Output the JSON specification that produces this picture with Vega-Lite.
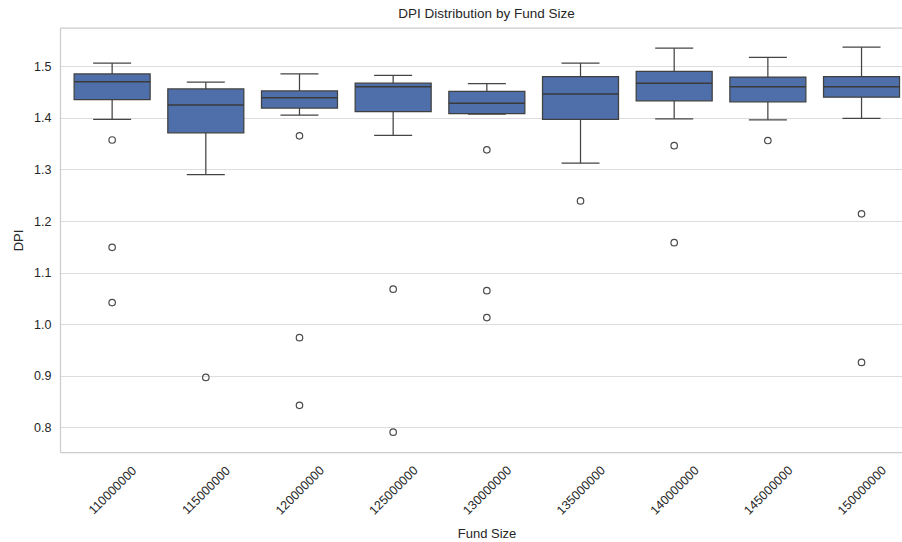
{
  "$schema": "https://vega.github.io/schema/vega-lite/v6.json",
  "autosize": "none",
  "width": 842,
  "height": 424,
  "padding": {"left": 60, "top": 28, "right": 0, "bottom": 90},
  "background": "white",
  "title": {"text": "DPI Distribution by Fund Size", "anchor": "middle", "frame": "group", "dx": 5.5, "offset": 7, "fontSize": 13.5, "fontWeight": "normal", "font": "Liberation Sans", "color": "#262626"},
  "datasets": {
    "boxes": [
      {"fund": 110000000, "lower": 1.397, "q1": 1.435, "median": 1.470, "q3": 1.485, "upper": 1.506},
      {"fund": 115000000, "lower": 1.290, "q1": 1.371, "median": 1.425, "q3": 1.456, "upper": 1.469},
      {"fund": 120000000, "lower": 1.405, "q1": 1.419, "median": 1.439, "q3": 1.452, "upper": 1.485},
      {"fund": 125000000, "lower": 1.366, "q1": 1.412, "median": 1.460, "q3": 1.467, "upper": 1.482},
      {"fund": 130000000, "lower": 1.407, "q1": 1.408, "median": 1.428, "q3": 1.451, "upper": 1.466},
      {"fund": 135000000, "lower": 1.312, "q1": 1.397, "median": 1.446, "q3": 1.480, "upper": 1.506},
      {"fund": 140000000, "lower": 1.398, "q1": 1.433, "median": 1.467, "q3": 1.490, "upper": 1.535},
      {"fund": 145000000, "lower": 1.396, "q1": 1.431, "median": 1.460, "q3": 1.479, "upper": 1.517},
      {"fund": 150000000, "lower": 1.399, "q1": 1.440, "median": 1.460, "q3": 1.480, "upper": 1.537}
    ],
    "outliers": [
      {"fund": 110000000, "dpi": 1.357},
      {"fund": 110000000, "dpi": 1.149},
      {"fund": 110000000, "dpi": 1.042},
      {"fund": 115000000, "dpi": 0.897},
      {"fund": 120000000, "dpi": 1.365},
      {"fund": 120000000, "dpi": 0.974},
      {"fund": 120000000, "dpi": 0.843},
      {"fund": 125000000, "dpi": 1.068},
      {"fund": 125000000, "dpi": 0.791},
      {"fund": 130000000, "dpi": 1.338},
      {"fund": 130000000, "dpi": 1.065},
      {"fund": 130000000, "dpi": 1.013},
      {"fund": 135000000, "dpi": 1.239},
      {"fund": 140000000, "dpi": 1.346},
      {"fund": 140000000, "dpi": 1.158},
      {"fund": 145000000, "dpi": 1.356},
      {"fund": 150000000, "dpi": 1.214},
      {"fund": 150000000, "dpi": 0.926}
    ],
    "frame": [{"top": 1.574}]
  },
  "encoding": {
    "x": {
      "field": "fund", "type": "quantitative", "title": "Fund Size",
      "scale": {"domain": [107484000, 151893000], "nice": false, "zero": false},
      "axis": {
        "values": [110000000, 115000000, 120000000, 125000000, 130000000, 135000000, 140000000, 145000000, 150000000],
        "format": "d", "labelAngle": -45, "labelAlign": "center", "labelBaseline": "middle", "labelFontSize": 12.5,
        "labelPadding": 38, "labelOverlap": false, "labelFlush": false, "labelBound": false,
        "ticks": false, "grid": false, "domain": true, "domainColor": "#cccccc", "domainWidth": 1.25,
        "titleX": 426.5, "titleY": 85, "titleBaseline": "alphabetic", "titleAnchor": null
      }
    }
  },
  "layer": [
    {
      "data": {"name": "frame"},
      "mark": {"type": "rule", "color": "#cccccc", "strokeWidth": 1.25},
      "encoding": {"x": null, "y": {"field": "top", "type": "quantitative", "scale": {"domain": [0.7525, 1.574], "nice": false, "zero": false}, "title": "DPI"}}
    },
    {
      "data": {"name": "boxes"},
      "mark": {"type": "rule", "color": "#444444", "strokeWidth": 1.25},
      "encoding": {
        "y": {"field": "lower", "type": "quantitative", "title": "DPI", "scale": {"domain": [0.7525, 1.574], "nice": false, "zero": false},
          "axis": {"values": [0.8, 0.9, 1.0, 1.1, 1.2, 1.3, 1.4, 1.5], "format": ".1f", "grid": true, "gridColor": "#dddddd", "gridWidth": 1, "ticks": false, "domain": true, "domainColor": "#cccccc", "domainWidth": 1.25, "labelPadding": 9, "titlePadding": 8}},
        "y2": {"field": "q1"}
      }
    },
    {
      "data": {"name": "boxes"},
      "mark": {"type": "rule", "color": "#444444", "strokeWidth": 1.25},
      "encoding": {
        "y": {"field": "q3", "type": "quantitative", "title": "DPI", "scale": {"domain": [0.7525, 1.574], "nice": false, "zero": false}},
        "y2": {"field": "upper"}
      }
    },
    {
      "data": {"name": "boxes"},
      "mark": {"type": "tick", "orient": "horizontal", "size": 38, "thickness": 1.25, "color": "#444444", "opacity": 1},
      "encoding": {
        "y": {"field": "lower", "type": "quantitative", "title": "DPI", "scale": {"domain": [0.7525, 1.574], "nice": false, "zero": false}}
      }
    },
    {
      "data": {"name": "boxes"},
      "mark": {"type": "tick", "orient": "horizontal", "size": 38, "thickness": 1.25, "color": "#444444", "opacity": 1},
      "encoding": {
        "y": {"field": "upper", "type": "quantitative", "title": "DPI", "scale": {"domain": [0.7525, 1.574], "nice": false, "zero": false}}
      }
    },
    {
      "data": {"name": "boxes"},
      "mark": {"type": "bar", "width": 76, "fill": "#4e6fa9", "stroke": "#404040", "strokeWidth": 1.25, "opacity": 1},
      "encoding": {
        "y": {"field": "q1", "type": "quantitative", "title": "DPI", "scale": {"domain": [0.7525, 1.574], "nice": false, "zero": false}},
        "y2": {"field": "q3"}
      }
    },
    {
      "data": {"name": "boxes"},
      "mark": {"type": "tick", "orient": "horizontal", "size": 76, "thickness": 1.5, "color": "#3a3a3a", "opacity": 1},
      "encoding": {
        "y": {"field": "median", "type": "quantitative", "title": "DPI", "scale": {"domain": [0.7525, 1.574], "nice": false, "zero": false}}
      }
    },
    {
      "data": {"name": "outliers"},
      "mark": {"type": "point", "shape": "circle", "filled": false, "size": 42, "stroke": "#4a4a4a", "strokeWidth": 1.2, "opacity": 1},
      "encoding": {
        "y": {"field": "dpi", "type": "quantitative", "title": "DPI", "scale": {"domain": [0.7525, 1.574], "nice": false, "zero": false}}
      }
    }
  ],
  "config": {
    "font": "Liberation Sans",
    "view": {"stroke": null},
    "axis": {"labelFont": "Liberation Sans", "labelFontSize": 12.5, "labelColor": "#262626", "titleFont": "Liberation Sans", "titleFontSize": 13, "titleFontWeight": "normal", "titleColor": "#262626"}
  }
}
